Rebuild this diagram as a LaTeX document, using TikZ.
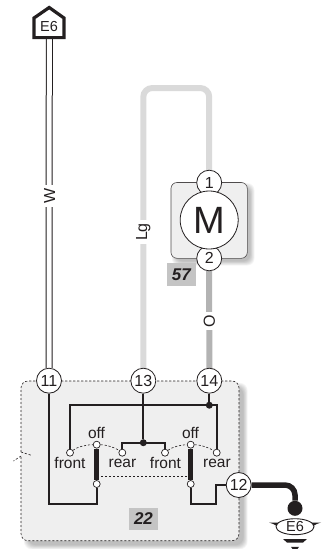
\documentclass[tikz,border=0pt]{standalone}
\usepackage{fontspec}
\usetikzlibrary{shapes.geometric}
\setmainfont{Liberation Sans}
\pgfdeclarelayer{back}
\pgfsetlayers{back,main}
\definecolor{ink}{HTML}{231F20}
\definecolor{lgw}{HTML}{DADADA}
\definecolor{orw}{HTML}{B3B3B3}
\definecolor{panelc}{HTML}{EFEFEF}
\definecolor{tagc}{HTML}{C4C4C4}
\tikzset{
 pin/.style={circle,draw=ink,fill=white,line width=0.8pt,minimum size=25pt,inner sep=0pt,font=\fontsize{16}{17}\selectfont,text=ink},
 contact/.style={circle,draw=ink,fill=white,line width=0.7pt,minimum size=7pt,inner sep=0pt},
 jdot/.style={circle,fill=ink,minimum size=7pt,inner sep=0pt},
 lbl/.style={font=\fontsize{15.5}{16}\selectfont,text=ink,inner sep=0pt},
 wirelbl/.style={font=\fontsize{16}{17}\selectfont,text=ink,fill=white,rotate=90,inner xsep=3pt,inner ysep=1pt},
 tag/.style={fill=tagc,font=\fontsize{17}{18}\selectfont\bfseries\itshape,text=ink,inner sep=0pt},
 sw/.style={draw=ink,line width=2pt},
 bar/.style={draw=ink,line width=5.5pt},
 thin dash/.style={draw=ink,line width=0.6pt,dash pattern=on 2.2pt off 1.8pt},
}
\begin{document}
\begin{tikzpicture}[x=1pt,y=-1pt]
\useasboundingbox (0,0) rectangle (331,549);
% nodes
\node[pin] (n11) at (49,380.7) {11};
\node[pin] (n13) at (143.3,380.7) {13};
\node[pin] (n14) at (209.3,380.7) {14};
\node[pin] (n12) at (238.7,485) {12};
\node[pin] (n1) at (209.2,182.7) {1};
\node[pin] (n2) at (209.2,258.3) {2};
\node[circle,draw=ink,fill=white,line width=0.8pt,minimum size=58pt,inner sep=0pt,font=\fontsize{38}{39}\selectfont,text=ink] (mot) at (209.2,220) {M};
\node[tag,minimum width=29.3pt,minimum height=23pt] (t57) at (181.4,274.5) {57};
\node[tag,minimum width=28.4pt,minimum height=22pt] (t22) at (143.5,519) {22};
\node[contact] (cf1) at (70,452.7) {};
\node[contact] (coff1) at (96.7,444.7) {};
\node[contact] (cr1) at (122.3,452.7) {};
\node[contact] (cm1) at (96.7,484) {};
\node[contact] (cf2) at (165,452.7) {};
\node[contact] (coff2) at (190.7,444.7) {};
\node[contact] (cr2) at (216.7,452.7) {};
\node[contact] (cm2) at (190.7,484) {};
\node[lbl] (lf1) at (70,463) {front};
\node[lbl] (lo1) at (96.5,432.5) {off};
\node[lbl] (lr1) at (122.5,463) {rear};
\node[lbl] (lf2) at (165.5,463) {front};
\node[lbl] (lo2) at (190.5,432.5) {off};
\node[lbl] (lr2) at (217,463) {rear};
\node[jdot] (j13) at (143.3,442.7) {};
\node[jdot] (j14) at (209.3,405.2) {};
\node[jdot,minimum size=15pt] (gdot) at (295,508.3) {};
% ground symbol
\fill[ink] (269,522.5) -- (321,522.5) .. controls (315,524) and (311,527) .. (309,532) -- (281,532) .. controls (279,527) and (275,524) .. (269,522.5) -- cycle;
\fill[ink] (283,539) -- (307,539) -- (303,542.5) -- (287,542.5) -- cycle;
\fill[ink] (291,546.8) -- (299,546.8) -- (297.5,549) -- (292.5,549) -- cycle;
\node[ellipse,draw=ink,fill=white,line width=0.9pt,minimum width=38pt,minimum height=16pt,inner sep=0pt,font=\fontsize{14.5}{15}\selectfont,text=ink] (gnd) at (295,526.7) {E6};
% top connector
\node[font=\fontsize{14.5}{15}\selectfont,text=ink,inner sep=0pt] (e6txt) at (49,27) {E6};
\begin{pgfonlayer}{back}
 % panel shadow
 \foreach \k in {0,...,7}{
  \fill[black,opacity=0.035,rounded corners=8pt] ({21+7-\k*0.6},{381+6-\k*0.6}) rectangle ({239+4.5+\k*0.6},{540.7+4.5+\k*0.6});
  \fill[black,opacity=0.035,rounded corners=7pt] ({171+5-\k*0.6},{182.3+5-\k*0.6}) rectangle ({247.3+3+\k*0.6},{258.3+3+\k*0.6});
 }
 % panel
 \fill[panelc,rounded corners=7pt] (21,381) rectangle (239,540.7);
 \draw[thin dash,rounded corners=7pt] (21,452) -- (21,381) -- (239,381) -- (239,540.7) -- (21,540.7) -- (21,456);
 \draw[thin dash] (21,452) -- (32,455.5);
 \draw[thin dash] (21,456) -- (13.5,461);
 % motor box
 \fill[panelc,draw=ink!80,line width=0.6pt,rounded corners=6pt] (171,182.5) rectangle (247.3,258.3);
 % wires
 \coordinate (ltop) at (176,88);
 \draw[lgw,line width=6pt,rounded corners=9pt] (n13) |- (ltop) -| (n1);
 \draw[orw,line width=6pt] (n2) -- (n14);
 \node[wirelbl] (wlg) at (143.3,232) {Lg};
 \node[wirelbl] (wo) at (209.3,321) {O};
 % top tag
 \coordinate (e6b) at (49.3,37.5);
 \draw[ink,line width=1pt,double=white,double distance=5pt] (e6b) -- (n11);
 \node[wirelbl,inner xsep=3.5pt] (ww) at (49.5,196) {W};
 \draw[ink,line width=3.2pt,fill=white,line join=miter] (34,37.6) -- (34,18) -- (49.2,7.5) -- (64,18) -- (64,37.6) -- cycle;
 % switch wiring
 \coordinate (ll) at (49,504);
 \coordinate (rl) at (216,504);
 \draw[sw] (n11) -- (ll) -| (cm1);
 \draw[sw] (cf1) |- (j14.center) -| (cr2);
 \draw[sw] (n14) -- (j14);
 \draw[sw] (n13) -- (j13);
 \draw[sw] (cr1) |- (j13.center) -| (cf2);
 \draw[sw] (cm2) |- (rl) |- (n12);
 \draw[bar] (coff1) -- (cm1);
 \draw[bar] (coff2) -- (cm2);
 \coordinate (ds) at (101,476);
 \coordinate (de) at (188,476);
 \draw[thin dash] (ds) -- (de);
 \draw[thin dash] (cf1) .. controls (77,447) and (86,444.7) .. (coff1);
 \draw[thin dash] (coff1) .. controls (106,444.7) and (115,447.5) .. (cr1);
 \draw[thin dash] (cf2) .. controls (172,447) and (181,444.7) .. (coff2);
 \draw[thin dash] (coff2) .. controls (200,444.7) and (209,447.5) .. (cr2);
 % ground wire
 \coordinate (gc) at (295,485);
 \draw[ink,line width=5.5pt,rounded corners=10pt] (n12) -- (gc) -- (gdot);
\end{pgfonlayer}
\end{tikzpicture}
\end{document}
